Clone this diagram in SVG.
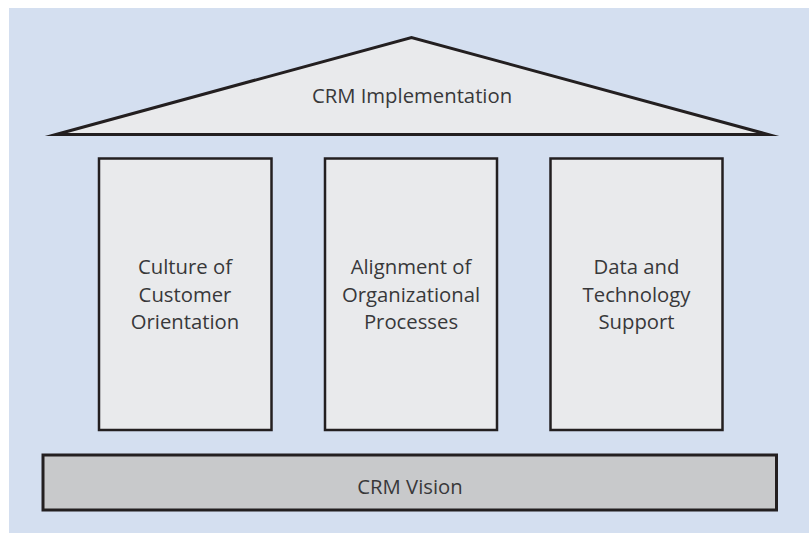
<svg xmlns="http://www.w3.org/2000/svg" width="809" height="533" viewBox="0 0 809 533">
  <style>
    .panel { fill: #d4dff0; }
    .roof { fill: #e9eaec; stroke: #231f20; stroke-width: 3; stroke-linejoin: miter; stroke-miterlimit: 12; }
    .pillar { fill: #e9eaec; stroke: #231f20; stroke-width: 2.5; }
    .base { fill: #c8c9cb; stroke: #231f20; stroke-width: 3; }
    .label { font-family: "Open Sans", "Liberation Sans", sans-serif; font-size: 20.3px; fill: #38383a; text-anchor: middle; }
  </style>
  <rect class="panel" x="9" y="8" width="800" height="525"/>
  <g id="connectors"></g>
  <g id="roof">
    <polygon class="roof" points="56,134.5 411.5,37.5 768,134.5"/>
    <text class="label" x="412" y="103.3">CRM Implementation</text>
  </g>
  <g id="pillar-culture">
    <rect class="pillar" x="99" y="158.5" width="172.5" height="271.5"/>
    <text class="label" x="185" y="274">Culture of</text>
    <text class="label" x="185" y="301.7">Customer</text>
    <text class="label" x="185" y="329">Orientation</text>
  </g>
  <g id="pillar-alignment">
    <rect class="pillar" x="325" y="158.5" width="172" height="271.5"/>
    <text class="label" x="411" y="274">Alignment of</text>
    <text class="label" x="411" y="301.7">Organizational</text>
    <text class="label" x="411" y="329">Processes</text>
  </g>
  <g id="pillar-data">
    <rect class="pillar" x="550.5" y="158.5" width="172" height="271.5"/>
    <text class="label" x="636.5" y="274">Data and</text>
    <text class="label" x="636.5" y="301.7">Technology</text>
    <text class="label" x="636.5" y="329">Support</text>
  </g>
  <g id="base">
    <rect class="base" x="43" y="455" width="733.5" height="55"/>
    <text class="label" x="410" y="494">CRM Vision</text>
  </g>
</svg>
